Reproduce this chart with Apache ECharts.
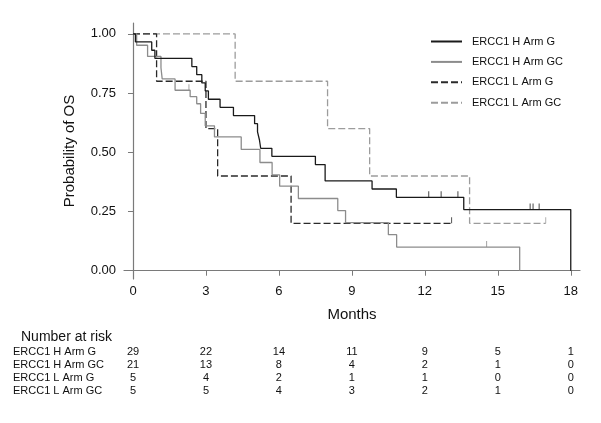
<!DOCTYPE html>
<html><head><meta charset="utf-8">
<script src="https://cdn.jsdelivr.net/npm/echarts@6/dist/echarts.min.js"></script>
<style>html,body{margin:0;padding:0;background:#fff}#c{width:601px;height:423px}</style>
</head><body><div id="c"></div>
<script>
// ---- data ----
const seriesNames = ['ERCC1 H Arm G','ERCC1 H Arm GC','ERCC1 L Arm G','ERCC1 L Arm GC'];
const hG_t = [0, 0.1, 0.77, 0.9, 2.42, 2.62, 2.83, 2.97, 3.1, 3.58, 4.13, 5.0, 5.12, 5.2, 5.25, 5.71, 7.5, 7.9, 9.83, 10.83, 13.6, 18.0];
const hG_s = [1, 0.966, 0.931, 0.897, 0.862, 0.828, 0.793, 0.759, 0.724, 0.690, 0.655, 0.621, 0.586, 0.552, 0.517, 0.483, 0.448, 0.379, 0.345, 0.310, 0.258, 0];
const hG_cens_t = [12.16, 12.67, 13.36, 16.33, 16.45, 16.7];
const hG_cens_s = [0.310, 0.310, 0.310, 0.258, 0.258, 0.258];
const hGC_t = [0, 0.15, 0.6, 1.15, 1.2, 1.73, 2.35, 2.62, 2.78, 2.97, 3.35, 4.45, 5.22, 5.72, 6.03, 6.8, 8.42, 8.74, 10.5, 10.84, 15.9];
const hGC_s = [1, 0.952, 0.905, 0.857, 0.810, 0.762, 0.735, 0.705, 0.664, 0.612, 0.565, 0.512, 0.457, 0.405, 0.357, 0.305, 0.254, 0.203, 0.152, 0.100, 0];
const hGC_cens_t = [2.3, 14.54];
const hGC_cens_s = [0.762, 0.100];
const lG_t = [0, 0.97, 3.0, 3.48, 6.5, 13.1];
const lG_s = [1, 0.8, 0.6, 0.4, 0.2, 0.2];
const lG_cens_t = [13.1];
const lG_cens_s = [0.2];
const lGC_t = [0, 4.2, 8.0, 9.73, 13.84, 16.97];
const lGC_s = [1, 0.8, 0.6, 0.4, 0.2, 0.2];
const lGC_cens_t = [16.97];
const lGC_cens_s = [0.2];
const xTicks = [0, 3, 6, 9, 12, 15, 18];
const yTicks = [0, 0.25, 0.5, 0.75, 1.0];
const riskRows = ['ERCC1 H Arm G','ERCC1 H Arm GC','ERCC1 L Arm G','ERCC1 L Arm GC'];
const riskHG  = [29, 22, 14, 11, 9, 5, 1];
const riskHGC = [21, 13, 8, 4, 2, 1, 0];
const riskLG  = [5, 4, 2, 1, 1, 0, 0];
const riskLGC = [5, 5, 4, 3, 2, 1, 0];

// ---- build ----
const zip = (a, b) => a.map((v, i) => [v, b[i]]);
const colors = ['#1a1a1a', '#8c8c8c', '#2a2a2a', '#9c9c9c'];
const types = ['solid', 'solid', [7, 3], [7, 3]];
const curves = [[hG_t, hG_s], [hGC_t, hGC_s], [lG_t, lG_s], [lGC_t, lGC_s]];
const cens = [[hG_cens_t, hG_cens_s], [hGC_cens_t, hGC_cens_s], [lG_cens_t, lG_cens_s], [lGC_cens_t, lGC_cens_s]];
const FONT = 'Liberation Sans, Arial, sans-serif';

const series = [];
curves.forEach((c, i) => {
  series.push({
    name: seriesNames[i], type: 'line', step: 'end', data: zip(c[0], c[1]),
    symbol: 'none', lineStyle: { color: colors[i], width: 1.3, type: types[i] },
    itemStyle: { color: colors[i] }, z: 10 - i, animation: false
  });
});
cens.forEach((c, i) => {
  series.push({
    name: seriesNames[i] + ' cens', type: 'scatter', data: zip(c[0], c[1]),
    symbol: 'rect', symbolSize: [1, 6], symbolOffset: [0, -3],
    itemStyle: { color: colors[i] }, animation: false, z: 10 - i
  });
});

const chart = echarts.init(document.getElementById('c'), null, { renderer: 'canvas' });
chart.setOption({
  backgroundColor: '#fff',
  animation: false,
  textStyle: { fontFamily: FONT },
  grid: { left: 124, right: 21, top: 23, bottom: 144, containLabel: false },
  legend: {
    data: seriesNames.map((n, i) => ({ name: n, itemStyle: { opacity: 0 } })),
    orient: 'vertical', left: 425, top: 31, itemWidth: 31, itemHeight: 10, itemGap: 9.4,
    textStyle: { fontSize: 11, color: '#111', fontFamily: FONT, padding: [0, 0, 0, 5] }, selectedMode: false
  },
  xAxis: {
    type: 'value', min: -0.37, max: 18.38,
    name: 'Months', nameLocation: 'middle', nameGap: 28.5,
    nameTextStyle: { fontSize: 15, color: '#111', fontFamily: FONT },
    axisLine: { show: true, lineStyle: { color: '#7a7a7a', width: 1.2 } },
    axisTick: { show: true, customValues: xTicks, length: 5, lineStyle: { color: '#7a7a7a' } },
    axisLabel: { customValues: xTicks, fontSize: 13, color: '#111', margin: 6, fontFamily: FONT },
    splitLine: { show: false }
  },
  yAxis: {
    type: 'value', min: -0.035, max: 1.046,
    name: 'Probability of OS', nameLocation: 'middle', nameGap: 46.5, nameRotate: 90,
    nameTextStyle: { fontSize: 15, color: '#111', fontFamily: FONT },
    axisLine: { show: true, lineStyle: { color: '#7a7a7a', width: 1.2 } },
    axisTick: { show: true, customValues: yTicks, length: 5, lineStyle: { color: '#7a7a7a' } },
    axisLabel: { customValues: yTicks, fontSize: 13, color: '#111', margin: 8, fontFamily: FONT,
      formatter: v => v.toFixed(2) },
    splitLine: { show: false }
  },
  series: series
});

// risk table
const g = [];
g.push({ type: 'text', left: 21, top: 330, style: { text: 'Number at risk', fontSize: 14, fill: '#111', fontFamily: FONT } });
const rows = [riskHG, riskHGC, riskLG, riskLGC];
const rowY = [351.7, 364.5, 377.5, 390.5];
rows.forEach((r, ri) => {
  g.push({ type: 'text', x: 13, y: rowY[ri], style: { text: riskRows[ri], fontSize: 11, fill: '#111', fontFamily: FONT, textVerticalAlign: 'middle' } });
  r.forEach((v, k) => {
    const px = chart.convertToPixel({ xAxisIndex: 0 }, xTicks[k]);
    g.push({ type: 'text', x: px, y: rowY[ri], style: { text: String(v), fontSize: 11, fill: '#111', fontFamily: FONT, textAlign: 'center', textVerticalAlign: 'middle' } });
  });
});
chart.setOption({ graphic: g });
</script></body></html>
